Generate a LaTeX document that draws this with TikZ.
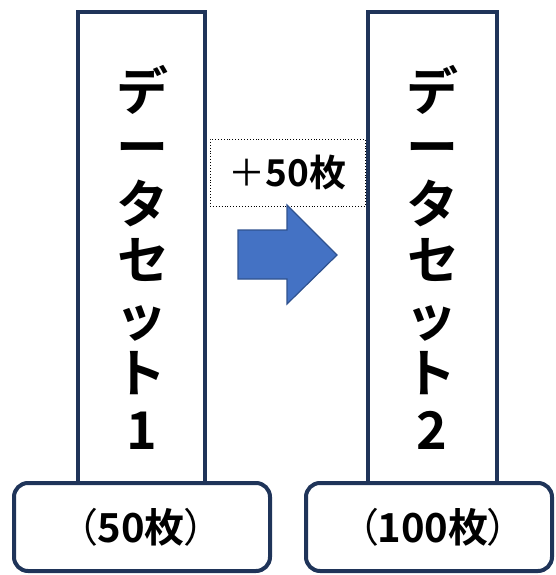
\documentclass[tikz,border=0pt]{standalone}
\usepackage{fontspec}
\setmainfont{Noto Sans CJK JP}[BoldFont={Noto Sans CJK JP Bold}, RawFeature=+palt]
\definecolor{navy}{HTML}{1F3459}
\definecolor{arrowfill}{HTML}{4472C4}
\definecolor{arrowline}{HTML}{2F528F}
\newcommand{\thinch}[1]{{\mdseries #1}}
\tikzset{
  tallbox/.style={draw=navy, line width=4pt, fill=white},
  countbox/.style={draw=navy, line width=4pt, fill=white, rounded corners=14pt},
  vtext/.style={align=center, font=\bfseries\fontsize{52}{56.5}\selectfont, inner sep=0pt},
  ctext/.style={font=\bfseries\fontsize{40}{44}\selectfont, inner sep=0pt},
  addbox/.style={draw=black, dotted, line width=0.9pt, minimum width=155pt, minimum height=67pt, font=\bfseries\fontsize{37}{40}\selectfont, inner sep=0pt},
}
\begin{document}
\begin{tikzpicture}[x=1pt,y=-1pt]
\useasboundingbox (0,0) rectangle (556,575);
% tall boxes
\draw[tallbox] (78,12) rectangle (205,500);
\draw[tallbox] (368,12) rectangle (497,500);
% vertical texts
\node[vtext] (t1) at (142,257) {デ\\ー\\タ\\セ\\ッ\\ト\\1};
\node[vtext] (t2) at (432,257) {デ\\ー\\タ\\セ\\ッ\\ト\\2};
% bottom boxes
\draw[countbox] (14,483) rectangle (270,571);
\draw[countbox] (306,483) rectangle (552,571);
\node[ctext] (c1) at (141,527) {\thinch{（}50枚\thinch{）}};
\node[ctext] (c2) at (433,527) {\thinch{（}100枚\thinch{）}};
% +50 box
\node[addbox] (add) at (287.5,172.5) {\thinch{＋}50枚};
% arrow
\draw[fill=arrowfill, draw=arrowline, line width=1.2pt, line join=miter]
  (238,230) -- (287,230) -- (287,205) -- (337,255) -- (287,304) -- (287,279) -- (238,279) -- cycle;
\end{tikzpicture}
\end{document}
